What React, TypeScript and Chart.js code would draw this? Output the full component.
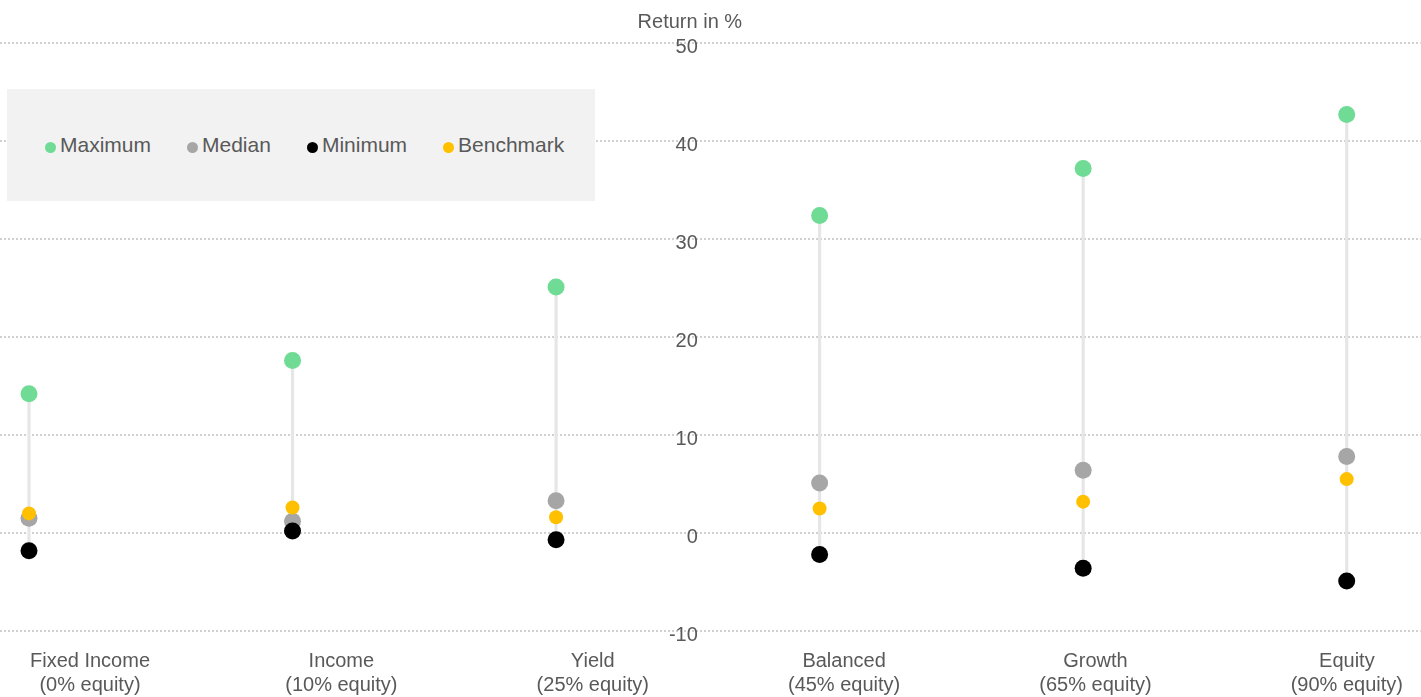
import React, { useEffect, useRef } from 'react';
import { Chart, registerables } from 'chart.js';

Chart.register(...registerables);

const CATEGORIES = ['Fixed Income', 'Income', 'Yield', 'Balanced', 'Growth', 'Equity'];
const EQUITY_SHARE = ['(0% equity)', '(10% equity)', '(25% equity)', '(45% equity)', '(65% equity)', '(90% equity)'];
const MAXIMUM = [14.2, 17.6, 25.1, 32.4, 37.2, 42.7];
const MEDIAN = [1.5, 1.2, 3.3, 5.1, 6.4, 7.8];
const MINIMUM = [-1.8, 0.2, -0.7, -2.2, -3.6, -4.9];
const BENCHMARK = [2.0, 2.6, 1.6, 2.5, 3.2, 5.5];
const Y_MIN = -10;
const Y_MAX = 50;
const Y_STEP = 10;
const Y_TITLE = 'Return in %';

const SERIES_NAMES = ['Maximum', 'Median', 'Minimum', 'Benchmark'];
const SERIES_COLORS = ['#6fdb95', '#a6a6a6', '#000000', '#ffc000'];

const FONT = '"Liberation Sans", Arial, Helvetica, sans-serif';
const TEXT = '#595959';

// axis layout settings
const X_MIN = -0.11;
const X_MAX = 5.281;
const XL_MIN = -0.358;
const XL_MAX = 5.294;
const Y_AXIS_AT = 2.538;
const LABEL_PAD = 18;
const LABEL_LINE = 24;

export default function App() {
  const ref = useRef<HTMLCanvasElement>(null);

  useEffect(() => {
    const canvas = ref.current;
    if (!canvas) return;
    const pts = (arr: number[]) => arr.map((v, i) => ({ x: i, y: v }));
    const titlePlugin = {
      id: 'yTitle',
      afterDraw(chart: any) {
        const ctx = chart.ctx;
        const x = chart.scales.x.getPixelForValue(Y_AXIS_AT) - 8;
        ctx.save();
        ctx.font = `20px ${FONT}`;
        ctx.fillStyle = TEXT;
        ctx.textAlign = 'center';
        ctx.textBaseline = 'middle';
        ctx.fillText(Y_TITLE, x, chart.chartArea.top - 21);
        ctx.restore();
      },
    };
    const chart = new Chart(canvas, {
      type: 'bar',
      data: {
        datasets: [
          {
            type: 'scatter',
            label: SERIES_NAMES[3],
            data: pts(BENCHMARK),
            backgroundColor: SERIES_COLORS[3],
            borderWidth: 0,
            pointRadius: 7,
            order: 0,
          } as any,
          {
            type: 'scatter',
            label: SERIES_NAMES[2],
            data: pts(MINIMUM),
            backgroundColor: SERIES_COLORS[2],
            borderWidth: 0,
            pointRadius: 8.5,
            order: 1,
          },
          {
            type: 'scatter',
            label: SERIES_NAMES[1],
            data: pts(MEDIAN),
            backgroundColor: SERIES_COLORS[1],
            borderWidth: 0,
            pointRadius: 8.5,
            order: 2,
          },
          {
            type: 'scatter',
            label: SERIES_NAMES[0],
            data: pts(MAXIMUM),
            backgroundColor: SERIES_COLORS[0],
            borderWidth: 0,
            pointRadius: 8.5,
            order: 3,
          },
          {
            type: 'bar',
            label: 'Range',
            data: CATEGORIES.map((_, i) => ({ x: i, y: [MINIMUM[i], MAXIMUM[i]] })),
            backgroundColor: '#e6e6e6',
            barThickness: 2.5,
            borderWidth: 0,
            order: 10,
          } as any,
        ],
      },
      options: {
        animation: false,
        responsive: false,
        layout: { autoPadding: false, padding: { top: 43, left: 0, right: 0, bottom: 0 } },
        plugins: { legend: { display: false }, tooltip: { enabled: false } },
        scales: {
          x: {
            type: 'linear',
            min: X_MIN,
            max: X_MAX,
            offset: false,
            display: false,
            grid: { offset: false },
          },
          xl: {
            type: 'linear',
            axis: 'x',
            position: 'bottom',
            min: XL_MIN,
            max: XL_MAX,
            offset: false,
            grid: { display: false, drawTicks: false, offset: false },
            border: { display: false },
            afterBuildTicks: (axis: any) => {
              axis.ticks = CATEGORIES.map((_, i) => ({ value: i }));
            },
            afterFit: (axis: any) => {
              axis.height = LABEL_PAD + 2 * LABEL_LINE;
            },
            ticks: {
              autoSkip: false,
              maxRotation: 0,
              padding: LABEL_PAD,
              color: TEXT,
              font: { family: FONT, size: 20, lineHeight: LABEL_LINE / 20 },
              callback: (v: any) => [CATEGORIES[v], EQUITY_SHARE[v]],
            },
          } as any,
          y: {
            type: 'linear',
            position: { x: Y_AXIS_AT } as any,
            min: Y_MIN,
            max: Y_MAX,
            border: { display: false, dash: [2, 2] },
            grid: {
              color: '#d0d0d0',
              lineWidth: 2,
              drawTicks: false,
            },
            ticks: {
              stepSize: Y_STEP,
              color: TEXT,
              padding: 0,
              labelOffset: 4,
              font: { family: FONT, size: 20 },
            },
          },
        },
      },
      plugins: [titlePlugin],
    });
    return () => chart.destroy();
  }, []);

  return (
    <div style={{ position: 'absolute', left: 0, top: 0, width: 1421, height: 697, background: '#fff' }}>
      <canvas ref={ref} width={1421} height={697} style={{ display: 'block' }} />
      <div
        style={{
          position: 'absolute',
          left: 7,
          top: 89,
          width: 588,
          height: 112,
          background: '#f2f2f2',
          display: 'flex',
          alignItems: 'center',
          paddingLeft: 38,
          boxSizing: 'border-box',
          fontFamily: FONT,
          fontSize: 21,
          color: TEXT,
        }}
      >
        {SERIES_NAMES.map((name, i) => (
          <div key={name} style={{ display: 'flex', alignItems: 'center', marginRight: 36 }}>
            <span
              style={{
                display: 'inline-block',
                width: 11,
                height: 11,
                borderRadius: '50%',
                background: SERIES_COLORS[i],
                marginRight: 4,
                marginTop: 5,
              }}
            />
            <span>{name}</span>
          </div>
        ))}
      </div>
    </div>
  );
}
